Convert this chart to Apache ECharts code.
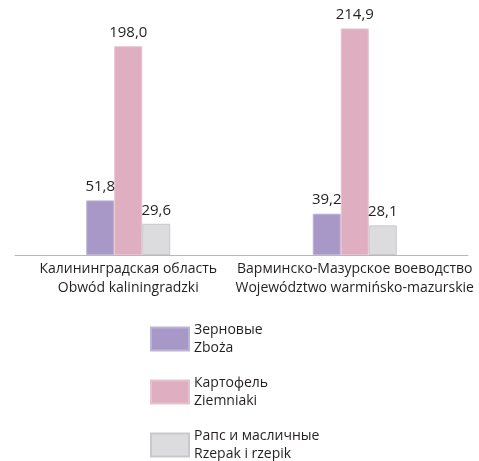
<!DOCTYPE html>
<html>
<head>
<meta charset="utf-8">
<script src="https://cdn.jsdelivr.net/npm/echarts@6/dist/echarts.min.js"></script>
<style>
	html, body { margin: 0; padding: 0; background: #fff; }
	#chart { width: 479px; height: 461px; }
</style>
</head>
<body>
<div id="chart"></div>
<script>
const categories = [
	"Калининградская область\nObwód kaliningradzki",
	"Варминско-Мазурское воеводство\nWojewództwo warmińsko-mazurskie",
];
const seriesNames = [
	"Зерновые\nZboża",
	"Картофель\nZiemniaki",
	"Рапс и масличные\nRzepak i rzepik",
];
const grain = [51.8, 39.2];
const potato = [198.0, 214.9];
const rapeseed = [29.6, 28.1];

function drawChart() {
	let dom = document.getElementById("chart");
	let myChart = echarts.init(dom, null, { renderer: "canvas" });

	const colors = ["#a898c8", "#dfaec1", "#dcdcde"];
	const borders = ["#bdb3d4", "#e6c1cf", "#c9c9cb"];
	const values = [grain, potato, rapeseed];
	const font = "'Open Sans', 'Noto Sans', sans-serif";

	let option = {
		animation: false,
		textStyle: { fontFamily: font },
		grid: {
			left: 15,
			right: 11,
			top: 2,
			height: 253,
		},
		legend: {
			orient: "vertical",
			left: 150,
			top: 321,
			height: 200,
			padding: 0,
			itemWidth: 38,
			itemHeight: 23,
			itemGap: 17,
			icon: "rect",
			data: seriesNames,
			textStyle: {
				fontFamily: font,
				fontSize: 14,
				lineHeight: 18,
				color: "#231f20",
			},
		},
		xAxis: {
			type: "category",
			data: categories,
			axisLine: { lineStyle: { color: "#b8b8b8", width: 1 } },
			axisTick: { show: false },
			axisLabel: {
				interval: 0,
				fontFamily: font,
				fontSize: 14,
				lineHeight: 19,
				color: "#231f20",
				margin: 5,
			},
		},
		yAxis: {
			type: "value",
			min: 0,
			max: 240,
			show: false,
			splitLine: { show: false },
		},
		series: seriesNames.map((name, i) => ({
			name: name,
			type: "bar",
			data: values[i],
			barWidth: 28,
			barGap: "0%",
			itemStyle: {
				color: colors[i],
				borderColor: borders[i],
				borderWidth: 1,
			},
			label: {
				show: true,
				position: "top",
				distance: 6,
				fontFamily: font,
				fontSize: 15,
				color: "#231f20",
				formatter: (p) => p.value.toFixed(1).replace(".", ","),
			},
		})),
	};

	myChart.setOption(option);
	window.addEventListener("resize", myChart.resize);
}

drawChart();
</script>
</body>
</html>
